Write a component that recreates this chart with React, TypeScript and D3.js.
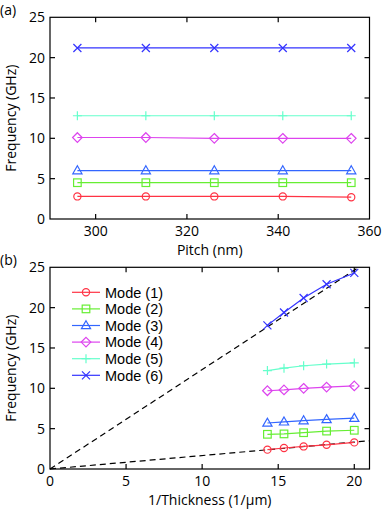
import React from "react";
import * as d3 from "d3";

const pitch = [296, 311, 326, 341, 356];
const invThickness = [14.29, 15.38, 16.67, 18.18, 20];
const modeNames = ["Mode (1)", "Mode (2)", "Mode (3)", "Mode (4)", "Mode (5)", "Mode (6)"];
const pitchFreq = [
  [2.8, 2.8, 2.8, 2.8, 2.7],
  [4.5, 4.5, 4.5, 4.5, 4.5],
  [6.0, 6.0, 6.0, 6.0, 6.0],
  [10.1, 10.1, 10.0, 10.0, 10.0],
  [12.8, 12.8, 12.8, 12.8, 12.8],
  [21.2, 21.2, 21.2, 21.2, 21.2],
];
const thickFreq = [
  [2.4, 2.6, 2.8, 3.0, 3.3],
  [4.3, 4.35, 4.5, 4.7, 4.8],
  [5.7, 5.85, 6.0, 6.15, 6.3],
  [9.7, 9.8, 10.0, 10.15, 10.3],
  [12.2, 12.5, 12.8, 13.0, 13.15],
  [17.8, 19.4, 21.2, 22.9, 24.3],
];
const fitLines = [
  [[0, 0], [20.3, 25]],
  [[0, 0], [21, 3.5]],
];
const pitchTicks = [300, 320, 340, 360];
const thickTicks = [0, 5, 10, 15, 20];
const freqTicks = [0, 5, 10, 15, 20, 25];
const colors = ["#ff3344", "#66ee33", "#3366ff", "#dd44ee", "#66ffcc", "#3333ff"];
const markers = ["circle", "square", "triangle", "diamond", "plus", "cross"];

const FONT = "'Open Sans', 'DejaVu Sans', sans-serif";
const LEGEND_FONT = "'Liberation Sans', Arial, sans-serif";
const FS = 14;

function Marker({ kind, x, y, color }: { kind: string; x: number; y: number; color: string }) {
  const common = { fill: "none", stroke: color, strokeWidth: 1.2 };
  if (kind === "circle") return <circle cx={x} cy={y} r={3.6} {...common} />;
  if (kind === "square") return <rect x={x - 3.8} y={y - 3.8} width={7.6} height={7.6} {...common} />;
  if (kind === "triangle")
    return <path d={`M${x},${y - 4.8}L${x + 4.6},${y + 3.2}L${x - 4.6},${y + 3.2}Z`} {...common} />;
  if (kind === "diamond")
    return <path d={`M${x},${y - 4.8}L${x + 4.8},${y}L${x},${y + 4.8}L${x - 4.8},${y}Z`} {...common} />;
  if (kind === "plus")
    return <path d={`M${x - 4.5},${y}L${x + 4.5},${y}M${x},${y - 4.5}L${x},${y + 4.5}`} {...common} />;
  return <path d={`M${x - 4},${y - 4}L${x + 4},${y + 4}M${x - 4},${y + 4}L${x + 4},${y - 4}`} {...common} />;
}

function Panel({
  top,
  xDomain,
  xTicks,
  xs,
  series,
  xLabel,
  tag,
  fits,
  legend,
}: {
  top: number;
  xDomain: [number, number];
  xTicks: number[];
  xs: number[];
  series: number[][];
  xLabel: string;
  tag: string;
  fits?: number[][][];
  legend?: boolean;
}) {
  const left = 50;
  const right = 369.5;
  const h = 201.7;
  const x = d3.scaleLinear().domain(xDomain).range([left, right]);
  const y = d3.scaleLinear().domain([0, 25]).range([top + h, top]);
  const line = d3
    .line<number>()
    .x((_, i) => x(xs[i]))
    .y((d) => y(d));
  const fitLine = d3
    .line<number[]>()
    .x((d) => x(d[0]))
    .y((d) => y(d[1]));
  const tl = 5;
  return (
    <g>
      <text x={0} y={top - 2.2} fontSize={14} fontFamily={FONT}>
        {tag}
      </text>
      <defs>
        <clipPath id={`clip${tag}`}>
          <rect x={left} y={top} width={right - left} height={h} />
        </clipPath>
      </defs>
      <g clipPath={`url(#clip${tag})`}>
        {fits &&
          fits.map((f, i) => (
            <path key={i} d={fitLine(f) || ""} fill="none" stroke="#000" strokeWidth={1.2} strokeDasharray="6,4" />
          ))}
      </g>
      {series.map((s, si) => (
        <g key={si}>
          <path d={line(s) || ""} fill="none" stroke={colors[si]} strokeWidth={1.2} />
          {s.map((v, i) => (
            <Marker key={i} kind={markers[si]} x={x(xs[i])} y={y(v)} color={colors[si]} />
          ))}
        </g>
      ))}
      <rect x={left} y={top} width={right - left} height={h} fill="none" stroke="#000" strokeWidth={1.2} />
      {xTicks.map((t) => (
        <g key={t}>
          {x(t) > left + 1 && x(t) < right - 1 && (
            <>
              <line x1={x(t)} x2={x(t)} y1={top + h} y2={top + h - tl} stroke="#000" strokeWidth={1.2} />
              <line x1={x(t)} x2={x(t)} y1={top} y2={top + tl} stroke="#000" strokeWidth={1.2} />
            </>
          )}
          <text x={x(t)} y={top + h + 16.5} fontSize={FS} fontFamily={FONT} textAnchor="middle">
            {t}
          </text>
        </g>
      ))}
      {freqTicks.map((t) => (
        <g key={t}>
          {t > 0 && t < 25 && (
            <>
              <line x1={left} x2={left + tl} y1={y(t)} y2={y(t)} stroke="#000" strokeWidth={1.2} />
              <line x1={right} x2={right - tl} y1={y(t)} y2={y(t)} stroke="#000" strokeWidth={1.2} />
            </>
          )}
          <text x={left - 5} y={y(t)} dy="0.36em" fontSize={FS} fontFamily={FONT} textAnchor="end">
            {t}
          </text>
        </g>
      ))}
      <text x={(left + right) / 2} y={top + h + 36} fontSize={FS} fontFamily={FONT} textAnchor="middle">
        {xLabel}
      </text>
      <text
        transform={`translate(15.5,${top + h / 2}) rotate(-90)`}
        fontSize={FS}
        fontFamily={FONT}
        textAnchor="middle"
      >
        Frequency (GHz)
      </text>
      {legend &&
        modeNames.map((m, i) => {
          const ly = top + 25 + i * 16.6;
          return (
            <g key={m}>
              <line x1={72} x2={100} y1={ly} y2={ly} stroke={colors[i]} strokeWidth={1.2} />
              <Marker kind={markers[i]} x={86} y={ly} color={colors[i]} />
              <text x={105} y={ly} dy="0.36em" fontSize={14.5} fontFamily={LEGEND_FONT}>
                {m}
              </text>
            </g>
          );
        })}
    </g>
  );
}

export default function App() {
  return (
    <svg
      width={382}
      height={510}
      style={{ position: "absolute", left: 0, top: 0, background: "#fff" }}
    >
      <Panel
        top={17.3}
        xDomain={[290, 360]}
        xTicks={pitchTicks}
        xs={pitch}
        series={pitchFreq}
        xLabel="Pitch (nm)"
        tag="(a)"
      />
      <Panel
        top={267.3}
        xDomain={[0, 21]}
        xTicks={thickTicks}
        xs={invThickness}
        series={thickFreq}
        xLabel="1/Thickness (1/μm)"
        tag="(b)"
        fits={fitLines}
        legend
      />
    </svg>
  );
}
